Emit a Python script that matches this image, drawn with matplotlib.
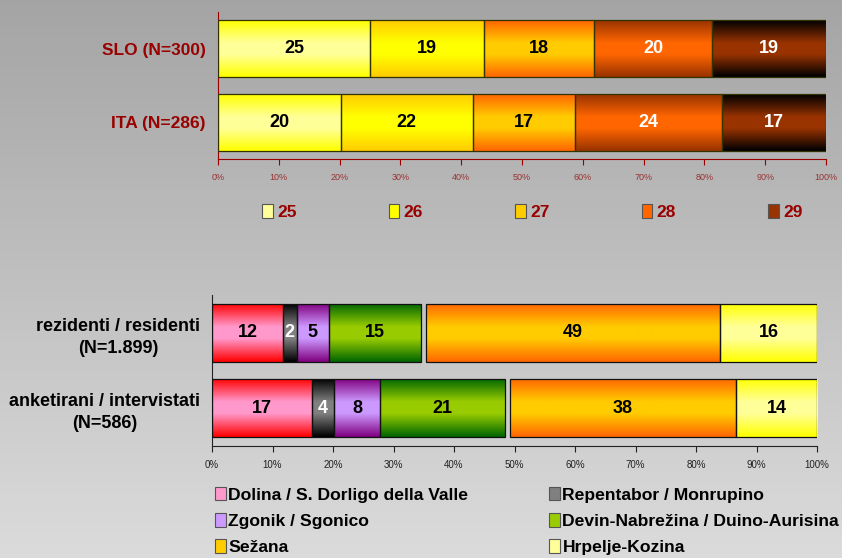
import numpy as np
import matplotlib
matplotlib.use('Agg')
import matplotlib.pyplot as plt
from matplotlib.colors import to_rgb
from matplotlib.patches import Patch

plt.rcParams['font.family'] = ['Liberation Sans', 'DejaVu Sans']

# ---------------- data: top chart ----------------
top_categories = ['SLO (N=300)', 'ITA (N=286)']
top_series = ['25', '26', '27', '28', '29']
slo_shares = [25.0, 18.75, 18.1, 19.4, 18.75]
ita_shares = [20.2, 21.7, 16.8, 24.2, 17.1]
slo_labels = ['25', '19', '18', '20', '19']
ita_labels = ['20', '22', '17', '24', '17']
top_center = ['#ffff99', '#ffff00', '#ffcc00', '#ff6600', '#993300']
top_edge = ['#ffff00', '#ffcc00', '#ff6600', '#993300', '#000000']
top_text = ['black', 'black', 'black', 'white', 'white']

# ---------------- data: bottom chart ----------------
bot_categories = ['rezidenti / residenti\n(N=1.899)', 'anketirani / intervistati\n(N=586)']
bot_series = ['Dolina / S. Dorligo della Valle', 'Repentabor / Monrupino',
              'Zgonik / Sgonico', 'Devin-Nabrežina / Duino-Aurisina',
              '', 'Sežana', 'Hrpelje-Kozina']
rez_shares = [11.7, 2.3, 5.3, 15.2, 0.9, 48.6, 16.0]
ank_shares = [16.5, 3.7, 7.6, 20.6, 0.9, 37.3, 13.4]
rez_labels = ['12', '2', '5', '15', '', '49', '16']
ank_labels = ['17', '4', '8', '21', '', '38', '14']
bot_center = ['#ff99cc', '#808080', '#cc99ff', '#99cc00', None, '#ffcc00', '#ffff99']
bot_edge = ['#ff0000', '#000000', '#800080', '#006600', None, '#ff6600', '#ffff00']
bot_text = ['black', 'white', 'black', 'black', 'black', 'black', 'black']

W, H = 842, 558
fig = plt.figure(figsize=(W / 100, H / 100), dpi=100)

# background gradient
bg = fig.add_axes([0, 0, 1, 1], zorder=-10)
g = np.linspace(0.645, 0.86, 256)[:, None]
bg.imshow(np.repeat(g[:, :, None], 3, axis=2), aspect='auto', extent=[0, 1, 0, 1],
          origin='upper', interpolation='bilinear')
bg.set_xlim(0, 1); bg.set_ylim(0, 1)
bg.axis('off')


def grad_fill(ax, patch, edge, center):
    n = 64
    t = np.linspace(0, 1, n)
    w = 1 - np.abs(2 * t - 1)
    w = np.clip(w * 1.25, 0, 1)
    e = np.array(to_rgb(edge)); c = np.array(to_rgb(center))
    img = e[None, :] * (1 - w[:, None]) + c[None, :] * w[:, None]
    img = img[:, None, :]
    x0, y0 = patch.get_x(), patch.get_y()
    wd, ht = patch.get_width(), patch.get_height()
    im = ax.imshow(img, extent=(x0, x0 + wd, y0 + ht, y0), aspect='auto',
                   interpolation='bilinear', zorder=2, origin='upper')
    im.set_clip_path(patch)


def stacked(ax, rows, labels, centers, edges, txtcols, fs, edgecol):
    y = np.arange(len(rows))
    data = np.array(rows)
    lefts = np.zeros(len(rows))
    for j in range(data.shape[1]):
        vals = data[:, j]
        if centers[j] is None:
            lefts += vals
            continue
        cont = ax.barh(y, vals, left=lefts, height=0.77, facecolor='none',
                       edgecolor=edgecol, linewidth=0.9, zorder=3)
        for p in cont.patches:
            grad_fill(ax, p, edges[j], centers[j])
        ax.bar_label(cont, labels=[labels[i][j] for i in range(len(rows))],
                     label_type='center', color=txtcols[j], fontweight='bold',
                     fontsize=fs, zorder=5)
        lefts += vals
    ax.set_xlim(0, 100)
    ax.set_ylim(1.5, -0.5)
    ax.set_xticks(np.arange(0, 101, 10))
    ax.set_xticklabels([f'{v}%' for v in range(0, 101, 10)])
    ax.set_yticks(y)
    ax.set_facecolor('none')
    for s in ['top', 'right']:
        ax.spines[s].set_visible(False)


# ---------------- top chart ----------------
ax1 = fig.add_axes([218 / W, 1 - 159 / H, 608 / W, 147 / H])
stacked(ax1, [slo_shares, ita_shares], [slo_labels, ita_labels],
        top_center, top_edge, top_text, 13, '#333300')
red = '#990000'
ax1.set_yticklabels(top_categories, fontsize=12.5, fontweight='bold', color=red)
ax1.tick_params(axis='y', length=0, pad=9)
ax1.tick_params(axis='x', colors=red, labelcolor='#993333', labelsize=6.5,
                length=4, width=0.8, pad=6)
for s in ['left', 'bottom']:
    ax1.spines[s].set_color(red)

top_handles = [Patch(facecolor=c, edgecolor='#555555', linewidth=0.8) for c in top_center]
leg1 = fig.legend(top_handles, top_series, loc='center left',
                  bbox_to_anchor=(262 / W, 1 - 212 / H), ncol=5, frameon=False,
                  prop={'weight': 'bold', 'size': 12.5}, labelcolor=red,
                  handlelength=0.62, handleheight=0.9, handletextpad=0.25,
                  columnspacing=5.3, borderpad=0, borderaxespad=0)

# ---------------- bottom chart ----------------
ax2 = fig.add_axes([212 / W, 1 - 446 / H, 605 / W, 151 / H])
stacked(ax2, [rez_shares, ank_shares], [rez_labels, ank_labels],
        bot_center, bot_edge, bot_text, 13, '#111111')
ax2.set_yticklabels(bot_categories, fontsize=13, fontweight='bold', color='black',
                    multialignment='center', linespacing=1.4)
ax2.tick_params(axis='y', length=0, pad=8.5)
ax2.tick_params(axis='x', colors='#222222', labelsize=7, length=4, width=0.8, pad=6)
for s in ['left', 'bottom']:
    ax2.spines[s].set_color('#222222')

order = [0, 2, 5, 1, 3, 6]
bot_handles = [Patch(facecolor=bot_center[i], edgecolor='#555555', linewidth=0.8) for i in order]
bot_names = [bot_series[i] for i in order]
leg2 = fig.legend(bot_handles, bot_names, loc='center left',
                  bbox_to_anchor=(215 / W, 1 - 521 / H), ncol=2, frameon=False,
                  prop={'weight': 'bold', 'size': 12.6}, labelcolor='black',
                  handlelength=0.62, handleheight=0.8, handletextpad=0.15,
                  columnspacing=4.6, labelspacing=0.6, borderpad=0, borderaxespad=0)

fig.savefig('out.png', dpi=100)
